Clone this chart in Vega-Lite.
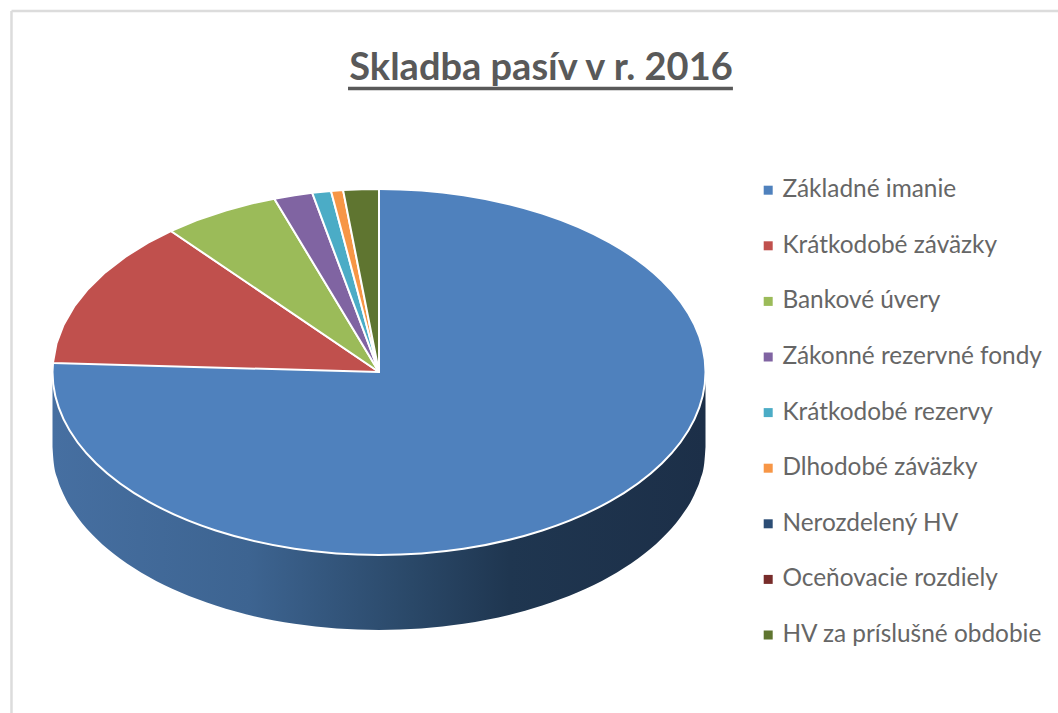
{
"$schema":"https://vega.github.io/schema/vega-lite/v6.json",
"width":1058,"height":713,"padding":0,"autosize":{"type":"none"},"background":"white",
"title":{"text":"Skladba pasív v r. 2016","font":"Lato","fontSize":38,"fontWeight":"bold","color":"#595959","anchor":"middle","frame":"group","offset":-118,"dx":12,"baseline":"alphabetic"},
"config":{"view":{"stroke":null}},
"datasets":{
"base":[
{"slice":"Základné imanie","ord":0,"x":0,"y":100},{"slice":"Základné imanie","ord":1,"x":25.88,"y":96.59},{"slice":"Základné imanie","ord":2,"x":50,"y":86.6},{"slice":"Základné imanie","ord":3,"x":70.71,"y":70.71},{"slice":"Základné imanie","ord":4,"x":86.6,"y":50},{"slice":"Základné imanie","ord":5,"x":96.59,"y":25.88},{"slice":"Základné imanie","ord":6,"x":100,"y":0},{"slice":"Základné imanie","ord":7,"x":96.59,"y":-25.88},{"slice":"Základné imanie","ord":8,"x":86.6,"y":-50},{"slice":"Základné imanie","ord":9,"x":70.71,"y":-70.71},{"slice":"Základné imanie","ord":10,"x":50,"y":-86.6},{"slice":"Základné imanie","ord":11,"x":25.88,"y":-96.59},{"slice":"Základné imanie","ord":12,"x":0,"y":-100},{"slice":"Základné imanie","ord":13,"x":-25.88,"y":-96.59},{"slice":"Základné imanie","ord":14,"x":-50,"y":-86.6},{"slice":"Základné imanie","ord":15,"x":-70.71,"y":-70.71},{"slice":"Základné imanie","ord":16,"x":-86.6,"y":-50},{"slice":"Základné imanie","ord":17,"x":-96.59,"y":-25.88},{"slice":"Základné imanie","ord":18,"x":-100,"y":0},{"slice":"Základné imanie","ord":19,"x":-96.59,"y":25.88},{"slice":"Základné imanie","ord":20,"x":-86.6,"y":50},{"slice":"Základné imanie","ord":21,"x":-70.71,"y":70.71},{"slice":"Základné imanie","ord":22,"x":-50,"y":86.6},{"slice":"Základné imanie","ord":23,"x":-25.88,"y":96.59}
],
"slices":[
{"slice":"Krátkodobé záväzky","ord":0,"x":0,"y":0},{"slice":"Krátkodobé záväzky","ord":1,"x":-99.88,"y":4.88},{"slice":"Krátkodobé záväzky","ord":2,"x":-98.77,"y":15.64},{"slice":"Krátkodobé záväzky","ord":3,"x":-96.59,"y":25.88},{"slice":"Krátkodobé záväzky","ord":4,"x":-93.36,"y":35.84},{"slice":"Krátkodobé záväzky","ord":5,"x":-89.1,"y":45.4},{"slice":"Krátkodobé záväzky","ord":6,"x":-83.87,"y":54.46},{"slice":"Krátkodobé záväzky","ord":7,"x":-77.71,"y":62.93},{"slice":"Krátkodobé záväzky","ord":8,"x":-70.71,"y":70.71},{"slice":"Krátkodobé záväzky","ord":9,"x":-63.74,"y":77.05},
{"slice":"Bankové úvery","ord":0,"x":0,"y":0},{"slice":"Bankové úvery","ord":1,"x":-63.74,"y":77.05},{"slice":"Bankové úvery","ord":2,"x":-55.92,"y":82.9},{"slice":"Bankové úvery","ord":3,"x":-46.95,"y":88.29},{"slice":"Bankové úvery","ord":4,"x":-39.07,"y":92.05},{"slice":"Bankové úvery","ord":5,"x":-32.06,"y":94.72},
{"slice":"Zákonné rezervné fondy","ord":0,"x":0,"y":0},{"slice":"Zákonné rezervné fondy","ord":1,"x":-32.06,"y":94.72},{"slice":"Zákonné rezervné fondy","ord":2,"x":-25.88,"y":96.59},{"slice":"Zákonné rezervné fondy","ord":3,"x":-20.45,"y":97.89},
{"slice":"Krátkodobé rezervy","ord":0,"x":0,"y":0},{"slice":"Krátkodobé rezervy","ord":1,"x":-20.45,"y":97.89},{"slice":"Krátkodobé rezervy","ord":2,"x":-14.7,"y":98.91},
{"slice":"Dlhodobé záväzky","ord":0,"x":0,"y":0},{"slice":"Dlhodobé záväzky","ord":1,"x":-14.7,"y":98.91},{"slice":"Dlhodobé záväzky","ord":2,"x":-11,"y":99.39},
{"slice":"HV za príslušné obdobie","ord":0,"x":0,"y":0},{"slice":"HV za príslušné obdobie","ord":1,"x":-11,"y":99.39},{"slice":"HV za príslušné obdobie","ord":2,"x":-5.23,"y":99.86},{"slice":"HV za príslušné obdobie","ord":3,"x":0,"y":100}
],
"wall":[
{"x":-100,"top":0,"bottom":-41},{"x":-99.62,"top":-8.72,"bottom":-49.72},{"x":-98.48,"top":-17.36,"bottom":-58.36},{"x":-96.59,"top":-25.88,"bottom":-66.88},{"x":-92.39,"top":-38.27,"bottom":-79.27},{"x":-86.6,"top":-50,"bottom":-91},{"x":-79.34,"top":-60.88,"bottom":-101.88},{"x":-70.71,"top":-70.71,"bottom":-111.71},{"x":-60.88,"top":-79.34,"bottom":-120.34},{"x":-50,"top":-86.6,"bottom":-127.6},{"x":-25.88,"top":-96.59,"bottom":-137.59},{"x":0,"top":-100,"bottom":-141},{"x":25.88,"top":-96.59,"bottom":-137.59},{"x":50,"top":-86.6,"bottom":-127.6},{"x":60.88,"top":-79.34,"bottom":-120.34},{"x":70.71,"top":-70.71,"bottom":-111.71},{"x":79.34,"top":-60.88,"bottom":-101.88},{"x":86.6,"top":-50,"bottom":-91},{"x":92.39,"top":-38.27,"bottom":-79.27},{"x":96.59,"top":-25.88,"bottom":-66.88},{"x":98.48,"top":-17.36,"bottom":-58.36},{"x":99.62,"top":-8.72,"bottom":-49.72},{"x":100,"top":0,"bottom":-41}
]
},
"layer":[
{"data":{"values":[{"x":-112.56,"x2":207.96,"y":197.3,"y2":197.3},{"x":-112.56,"x2":-112.56,"y":197.3,"y2":-186.34}]},
 "mark":{"type":"rule","color":"#dcdcdc","strokeWidth":2.5},
 "encoding":{"x":{"field":"x","type":"quantitative","scale":{"domain":[-116.08,207.96],"nice":false,"zero":false},"axis":null},"x2":{"field":"x2"},"y":{"field":"y","type":"quantitative","scale":{"domain":[-186.34,203.28],"nice":false,"zero":false},"axis":null},"y2":{"field":"y2"}}},
{"data":{"values":[{"x":-9.49,"x2":108.4,"y":154.9}]},
 "mark":{"type":"rule","color":"#595959","strokeWidth":3.5},
 "encoding":{"x":{"field":"x","type":"quantitative"},"x2":{"field":"x2"},"y":{"field":"y","type":"quantitative"}}},
{"data":{"name":"wall"},
 "mark":{"type":"area","interpolate":"monotone","color":{"x1":0,"y1":0,"x2":1,"y2":0,"gradient":"linear","stops":[{"offset":0,"color":"#466fa1"},{"offset":0.3,"color":"#3d6491"},{"offset":0.55,"color":"#2a4868"},{"offset":0.7,"color":"#1f3650"},{"offset":1,"color":"#1c2f48"}]}},
 "encoding":{"x":{"field":"x","type":"quantitative"},"y":{"field":"top","type":"quantitative"},"y2":{"field":"bottom"}}},
{"data":{"name":"base"},
 "mark":{"type":"line","interpolate":"cardinal-closed","tension":0,"stroke":"white","strokeWidth":2,"strokeJoin":"round"},
 "encoding":{"x":{"field":"x","type":"quantitative"},"y":{"field":"y","type":"quantitative"},"order":{"field":"ord"},
  "fill":{"field":"slice","type":"nominal","scale":{"domain":["Základné imanie","Krátkodobé záväzky","Bankové úvery","Zákonné rezervné fondy","Krátkodobé rezervy","Dlhodobé záväzky","Nerozdelený HV","Oceňovacie rozdiely","HV za príslušné obdobie"],"range":["#4f81bd","#c0504d","#9bbb59","#8064a2","#4bacc6","#f79646","#2c4d75","#772c2a","#5f7530"]},
   "legend":{"orient":"none","legendX":756,"legendY":178,"title":null,"symbolType":"square","symbolSize":81,"symbolStrokeWidth":0,"labelFont":"Lato","labelFontSize":24.4,"labelColor":"#666666","labelOffset":2,"rowPadding":30.6,"labelLimit":320}}}},
{"data":{"name":"slices"},
 "mark":{"type":"line","interpolate":"linear-closed","stroke":"white","strokeWidth":2,"strokeJoin":"round"},
 "encoding":{"x":{"field":"x","type":"quantitative"},"y":{"field":"y","type":"quantitative"},"order":{"field":"ord"},"fill":{"field":"slice","type":"nominal"}}}
]
}
